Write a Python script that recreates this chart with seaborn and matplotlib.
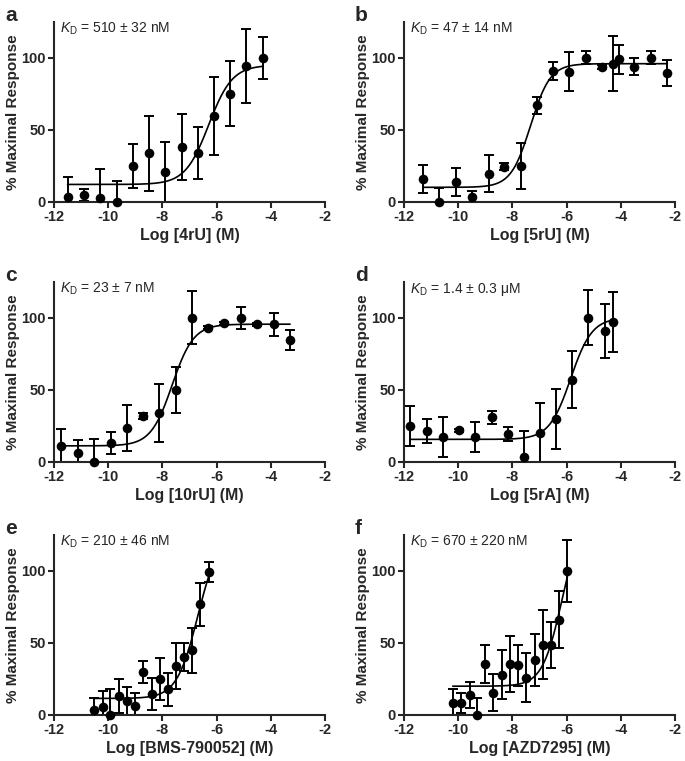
import numpy as np
import pandas as pd
import seaborn as sns
import matplotlib.pyplot as plt

# --- data ---
# panel a: 4rU
a_x = [-11.50, -10.88, -10.30, -9.69, -9.10, -8.48, -7.90, -7.29, -6.69, -6.08, -5.51, -4.90, -4.30]
a_y = [3.5, 4.6, 2.8, 0.0, 24.8, 33.6, 20.8, 38.0, 34.0, 59.7, 75.0, 94.4, 100.0]
a_err = [13.4, 4.2, 19.7, 14.6, 15.5, 26.0, 21.0, 23.0, 18.0, 27.0, 22.6, 26.0, 14.8]
a_fit = [12.0, 95.0, -6.29, 1.0]  # bottom, top, logKD, hill

# panel b: 5rU
b_x = [-11.29, -10.70, -10.09, -9.49, -8.88, -8.31, -7.68, -7.09, -6.49, -5.90,
       -5.30, -4.69, -4.28, -4.08, -3.51, -2.90, -2.28]
b_y = [15.7, 0.0, 13.7, 3.5, 19.4, 24.3, 24.8, 67.0, 90.7, 90.3,
       100.0, 93.5, 96.0, 99.0, 93.8, 100.0, 89.4]
b_err = [9.5, 9.3, 10.0, 4.0, 13.0, 2.5, 16.0, 6.0, 6.3, 13.5,
         4.5, 1.5, 19.0, 10.0, 6.0, 4.5, 9.0]
b_fit = [10.0, 96.0, -7.33, 1.2]

# panel c: 10rU
c_x = [-11.74, -11.12, -10.51, -9.91, -9.32, -8.71, -8.11, -7.51, -6.92, -6.31,
       -5.71, -5.10, -4.51, -3.90, -3.29]
c_y = [10.9, 6.3, 0.0, 12.8, 23.3, 31.9, 33.7, 49.5, 100.0, 93.0,
       96.0, 100.0, 95.3, 95.3, 84.4]
c_err = [12.0, 9.0, 16.0, 7.5, 16.0, 2.0, 20.0, 16.0, 18.5, 1.0,
         1.0, 7.5, 1.0, 8.3, 7.0]
c_fit = [11.0, 95.5, -7.64, 1.1]

# panel d: 5rA
d_x = [-11.78, -11.16, -10.56, -9.98, -9.38, -8.77, -8.17, -7.58, -6.98, -6.39,
       -5.79, -5.20, -4.58, -4.30]
d_y = [25.0, 21.4, 17.0, 21.9, 17.0, 31.0, 19.3, 3.5, 20.2, 29.8,
       57.0, 100.0, 90.7, 97.0]
d_err = [14.0, 8.5, 14.0, 1.0, 10.5, 4.5, 4.8, 17.5, 20.5, 21.0,
         20.0, 19.0, 18.5, 21.0]
d_fit = [15.5, 100.0, -5.85, 1.1]

# panel e: BMS-790052
e_x = [-10.51, -10.20, -9.92, -9.61, -9.31, -9.00, -8.70, -8.40, -8.10, -7.80,
       -7.51, -7.20, -6.90, -6.60, -6.29]
e_y = [3.7, 5.8, 0.0, 13.2, 9.7, 6.3, 30.0, 14.4, 25.2, 17.8,
       34.0, 40.3, 45.0, 76.9, 99.5]
e_err = [8.0, 11.0, 18.0, 12.0, 10.0, 9.0, 7.5, 11.0, 14.5, 11.5,
         16.0, 9.5, 15.5, 15.0, 7.0]
e_fit = [11.5, 128.0, -6.68, 1.1]

# panel f: AZD7295
f_x = [-10.20, -9.89, -9.58, -9.30, -9.00, -8.70, -8.39, -8.10, -7.79, -7.49,
       -7.18, -6.88, -6.57, -6.28, -5.97]
f_y = [8.4, 8.4, 14.0, 0.0, 35.3, 15.6, 28.0, 35.3, 34.4, 26.0,
       38.0, 48.8, 48.8, 66.3, 100.0]
f_err = [10.0, 7.0, 9.0, 12.0, 13.0, 13.0, 17.0, 19.5, 14.0, 17.0,
         18.0, 24.0, 16.0, 19.5, 21.5]
f_fit = [20.0, 140.0, -6.17, 1.2]

panels = [
    ("a", "Log [4rU] (M)", r"$K_\mathrm{D}$ = 510 ± 32 nM", a_x, a_y, a_err, a_fit),
    ("b", "Log [5rU] (M)", r"$K_\mathrm{D}$ = 47 ± 14 nM", b_x, b_y, b_err, b_fit),
    ("c", "Log [10rU] (M)", r"$K_\mathrm{D}$ = 23 ± 7 nM", c_x, c_y, c_err, c_fit),
    ("d", "Log [5rA] (M)", r"$K_\mathrm{D}$ = 1.4 ± 0.3 μM", d_x, d_y, d_err, d_fit),
    ("e", "Log [BMS-790052] (M)", r"$K_\mathrm{D}$ = 210 ± 46 nM", e_x, e_y, e_err, e_fit),
    ("f", "Log [AZD7295] (M)", r"$K_\mathrm{D}$ = 670 ± 220 nM", f_x, f_y, f_err, f_fit),
]

sns.set_style("ticks")
plt.rcParams['font.family'] = ['Liberation Sans', 'DejaVu Sans']
plt.rcParams['mathtext.fontset'] = 'custom'
plt.rcParams['mathtext.rm'] = 'Liberation Sans'
plt.rcParams['mathtext.it'] = 'Liberation Sans:italic'


def hill_curve(x_pts, fit):
    bottom, top, logkd, hill = fit
    xs = np.linspace(min(x_pts), max(x_pts), 300)
    ys = bottom + (top - bottom) / (1 + 10 ** ((logkd - xs) * hill))
    return pd.DataFrame({"x": xs, "y": ys})


fig = plt.figure(figsize=(6.85, 7.61), dpi=100)
W, H = 685.0, 761.0
lefts = [54, 404]
rows = [(22, 201.7), (281.7, 461.7), (535, 715)]
ax_w = 271

for i, (letter, xlabel, kd, xs, ys, errs, fit) in enumerate(panels):
    col = i % 2
    top_px, bot_px = rows[i // 2]
    left = lefts[col]
    ax = fig.add_axes([left / W, 1 - bot_px / H, ax_w / W, (bot_px - top_px) / H])

    df = pd.DataFrame({"x": xs, "y": ys, "err": errs})
    ax.errorbar(df["x"], df["y"], yerr=df["err"], fmt="none", ecolor="black",
                elinewidth=1.4, capsize=3.5, capthick=1.4, zorder=2)
    sns.lineplot(data=hill_curve(xs, fit), x="x", y="y", ax=ax, color="black",
                 linewidth=1.2, zorder=3)
    sns.scatterplot(data=df, x="x", y="y", ax=ax, color="black", s=48,
                    edgecolor="black", linewidth=0, zorder=4, clip_on=False)

    ax.set_xlim(-12, -2)
    ax.set_ylim(0, 125)
    ax.set_xticks([-12, -10, -8, -6, -4, -2])
    ax.set_yticks([0, 50, 100])
    ax.set_xticklabels(["-12", "-10", "-8", "-6", "-4", "-2"])
    sns.despine(ax=ax)
    for s in ["left", "bottom"]:
        ax.spines[s].set_linewidth(1.5)
    ax.tick_params(axis="both", length=4, width=1.5, labelsize=10.5, pad=2)
    for lab in ax.get_xticklabels() + ax.get_yticklabels():
        lab.set_fontweight("bold")
    ax.set_xlabel(xlabel, fontsize=11.5, fontweight="bold", labelpad=3)
    ax.set_ylabel("% Maximal Response", fontsize=11, fontweight="bold", labelpad=1)
    ax.grid(False)

    ax.text(0.022, 0.94, kd, transform=ax.transAxes, fontsize=10, va="baseline", ha="left")
    fig.text((left - 49) / W, 1 - (top_px - 1) / H, letter, fontsize=15,
             fontweight="bold", va="baseline", ha="left")

plt.savefig("out.png", dpi=100)
